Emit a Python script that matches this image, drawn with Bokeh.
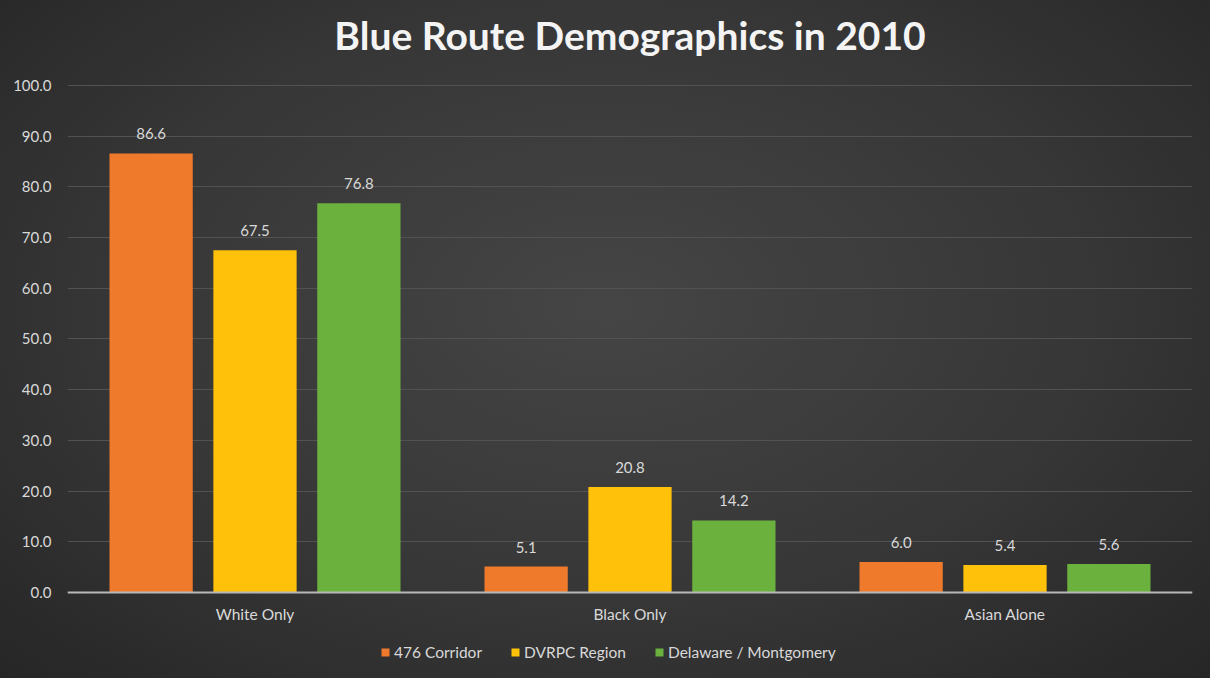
from bokeh.plotting import figure
from bokeh.models import (ColumnDataSource, LabelSet, Legend, LegendItem, FixedTicker,
                          Range1d, Span, Label)
from bokeh.core.properties import value
from bokeh.embed import file_html
from bokeh.resources import INLINE

categories = ["White Only", "Black Only", "Asian Alone"]
series_names = ["476 Corridor", "DVRPC Region", "Delaware / Montgomery"]
corridor_476 = [86.6, 5.1, 6.0]
dvrpc_region = [67.5, 20.8, 5.4]
delaware_montgomery = [76.8, 14.2, 5.6]
y_ticks = [0, 10, 20, 30, 40, 50, 60, 70, 80, 90, 100]
title_text = "Blue Route Demographics in 2010"

series_values = [corridor_476, dvrpc_region, delaware_montgomery]
colors = ["#EF7A2C", "#FFC10A", "#6BB13E"]
offsets = [-0.277, 0.0, 0.277]
bar_w = 0.222

FONT = "Lato"
TXT = "#d9d9d9"

# the frame extends above 100 and below zero to hold the title, category labels and legend
p = figure(width=1210, height=678, output_backend="svg", toolbar_location=None,
           x_range=Range1d(0, 3), y_range=Range1d(-15.4, 115.2),
           min_border_left=67, min_border_right=18, min_border_top=8, min_border_bottom=8)
p.styles = {"background": "radial-gradient(ellipse at 50% 45%, #454545 0%, #373737 55%, #262626 100%)"}
p.border_fill_alpha = 0
p.background_fill_alpha = 0
p.outline_line_color = None

p.add_layout(Label(x=1.5, y=100, y_offset=51, text=title_text, text_align="center",
                   text_baseline="middle", text_color="#f4f4f4", text_font=FONT,
                   text_font_style="bold", text_font_size="39px"))

items = []
for name, vals, col, off in zip(series_names, series_values, colors, offsets):
    xs = [i + 0.5 + off for i in range(len(categories))]
    src = ColumnDataSource(dict(x=xs, top=vals, lab=[f"{v:.1f}" for v in vals]))
    r = p.vbar(x="x", top="top", width=bar_w, bottom=0, source=src,
               fill_color=col, line_color=None)
    items.append(LegendItem(label=name, renderers=[r]))
    ls = LabelSet(x="x", y="top", text="lab", source=src, text_align="center",
                  text_baseline="bottom", y_offset=14, text_color=TXT,
                  text_font_size=value("15px"), text_font=value(FONT))
    p.add_layout(ls)

# zero axis line
p.add_layout(Span(location=0, dimension="width", line_color="#b8b8b8", line_width=2))

# category labels
cat_src = ColumnDataSource(dict(x=[i + 0.5 for i in range(len(categories))],
                                y=[0] * len(categories), lab=categories))
p.add_layout(LabelSet(x="x", y="y", text="lab", source=cat_src, text_align="center",
                      text_baseline="middle", y_offset=-22, text_color=TXT,
                      text_font_size=value("15.5px"), text_font=value(FONT)))

# axes
p.xaxis.visible = False
p.yaxis.ticker = FixedTicker(ticks=y_ticks)
p.yaxis.major_label_overrides = {t: f"{t:.1f}" for t in y_ticks}
p.yaxis.axis_line_color = None
p.yaxis.major_tick_line_color = None
p.yaxis.minor_tick_line_color = None
p.yaxis.major_label_text_color = TXT
p.yaxis.major_label_text_font = FONT
p.yaxis.major_label_text_font_size = "15px"
p.yaxis.major_label_standoff = 10

p.xgrid.grid_line_color = None
p.ygrid.grid_line_color = "#525252"
p.ygrid.grid_line_width = 1

legend = Legend(items=items, orientation="horizontal", location=(313, 9),
                background_fill_alpha=0, border_line_color=None,
                label_text_color=TXT, label_text_font=FONT, label_text_font_size="15.5px",
                glyph_width=10, glyph_height=10, spacing=28, label_standoff=4,
                margin=0, padding=4)
p.add_layout(legend)

open("out.html", "w").write(file_html(p, INLINE))
